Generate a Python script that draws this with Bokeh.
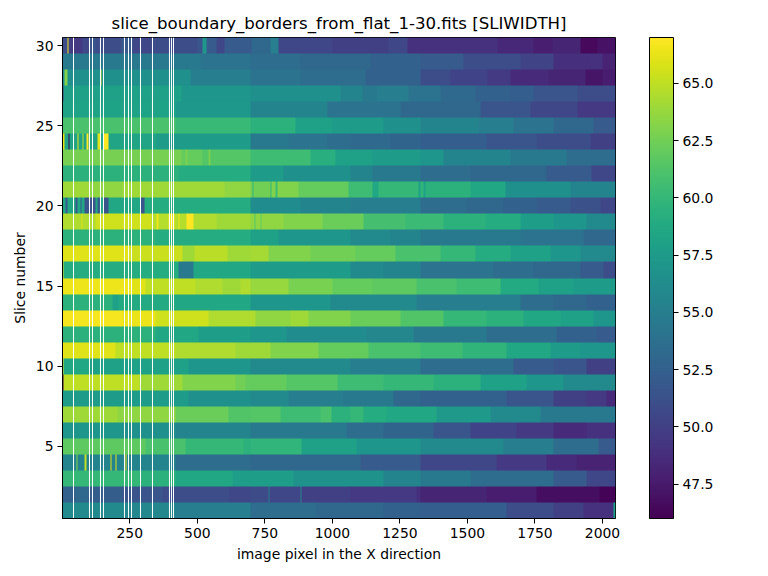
import numpy as np
from bokeh.embed import file_html
from bokeh.models import ColorBar, FixedTicker, Label, LinearColorMapper, PrintfTickFormatter, Range1d
from bokeh.palettes import Viridis256
from bokeh.plotting import figure
from bokeh.resources import INLINE

TITLE = "slice_boundary_borders_from_flat_1-30.fits [SLIWIDTH]"
X_LABEL = "image pixel in the X direction"
Y_LABEL = "Slice number"
BAR_LABEL = "Slice width (pixels)"
X_TICKS = [250, 500, 750, 1000, 1250, 1500, 1750, 2000]
Y_TICKS = [5, 10, 15, 20, 25, 30]
BAR_TICKS = [47.5, 50.0, 52.5, 55.0, 57.5, 60.0, 62.5, 65.0]
V_MIN = 46.0
V_MAX = 67.0
N_X = 2048
N_ROWS = 30

# detector columns with no measurement
GAP_X = [41.8, 100.9, 112, 141.6, 152.7, 230.4, 245.3, 256.4, 289.7, 334.1, 397, 404.4, 411.9]

# each row: (first column of a run, slice width for that run)
ROW_01 = [(1, 56), (223, 55.7), (420, 55), (696, 53.5), (943, 53), (1188, 52.5), (1325, 52.3), (1645, 51), (1819, 50), (1930, 49), (2040, 58)]
ROW_02 = [(1, 52.5), (50, 53), (97, 52.2), (223, 51.5), (370, 51), (620, 50.5), (696, 50.8), (764, 55), (768, 50.5), (883, 55.5), (887, 50), (1067, 49.5), (1313, 48.8), (1325, 48.2), (1572, 47.7), (1757, 46.8), (1990, 46.2)]
ROW_03 = [(1, 60), (285, 59.5), (420, 58.5), (630, 57.8), (856, 56.8), (1188, 55.5), (1325, 54.5), (1510, 53.5), (1819, 52), (1942, 50.5)]
ROW_04 = [(1, 55.5), (54, 63), (58, 55.5), (84, 65), (88, 55.5), (179, 66), (183, 55.5), (198, 66), (202, 55.5), (234, 66), (238, 55.5), (420, 53.5), (696, 53), (1105, 52), (1325, 50.5), (1608, 49.5), (1794, 48.5), (1905, 48)]
ROW_05 = [(1, 61.8), (310, 61), (455, 60), (670, 59.5), (696, 59.8), (887, 58), (1090, 57), (1325, 56), (1634, 55), (1819, 53.5), (1985, 52)]
ROW_06 = [(1, 57), (223, 56.5), (420, 55.5), (696, 54.5), (1054, 53.5), (1188, 52.8), (1375, 51.5), (1510, 50.2), (1683, 49.5), (1819, 48.5), (1942, 49)]
ROW_07 = [(1, 64), (205, 63.5), (420, 62.3), (615, 61.3), (696, 61.5), (807, 60.5), (955, 61), (998, 59.5), (1067, 60), (1116, 59), (1200, 58.5), (1387, 57.3), (1585, 56), (1770, 54.5)]
ROW_08 = [(1, 57.5), (467, 56.5), (696, 56), (838, 55), (1042, 54.5), (1225, 53), (1325, 52.5), (1645, 51.5), (1819, 50), (1942, 49.5), (2015, 48.6)]
ROW_09 = [(1, 46), (6, 65), (285, 64), (445, 63), (640, 62.5), (680, 62), (832, 61.5), (1018, 60.5), (1188, 60), (1374, 59.5), (1547, 58), (1720, 57), (1856, 56)]
ROW_10 = [(1, 66), (6, 58.5), (100, 58), (467, 57), (696, 56), (1067, 55), (1325, 53.5), (1670, 52), (1819, 51.5), (1942, 50)]
ROW_11 = [(1, 67), (6, 66), (197, 65), (420, 64.5), (640, 64), (770, 63), (950, 62), (1135, 61), (1325, 60.5), (1480, 59.7), (1645, 58.5), (1806, 57.5), (1917, 57)]
ROW_12 = [(1, 59.5), (345, 58.5), (505, 57.7), (696, 57), (832, 56.2), (1128, 55.7), (1300, 54.5), (1572, 53.5), (1831, 52.5), (1979, 52)]
ROW_13 = [(1, 66.7), (223, 66.4), (345, 65.5), (542, 64.5), (715, 63.5), (845, 64), (913, 63), (1067, 62.3), (1252, 61.3), (1410, 60), (1572, 59.5), (1708, 58.5), (1844, 58), (1967, 57)]
ROW_14 = [(1, 59.5), (185, 58), (210, 58.8), (420, 58.5), (696, 57), (992, 56), (1313, 55), (1695, 53.5), (1819, 53), (1942, 52.5)]
ROW_15 = [(1, 66.5), (260, 66), (310, 65), (492, 64.5), (593, 64), (660, 64.5), (696, 63.8), (837, 62.8), (1000, 62), (1150, 61.8), (1313, 61), (1461, 60.5), (1621, 58.8), (1763, 58), (1893, 57.5)]
ROW_16 = [(1, 66), (6, 59), (430, 54.5), (485, 58.5), (696, 57.5), (1067, 56), (1188, 55.5), (1325, 54), (1597, 53.5), (1745, 53), (1917, 52), (2004, 51)]
ROW_17 = [(1, 66), (250, 65.3), (445, 64), (490, 64.8), (610, 64), (696, 64.2), (764, 63), (918, 62.5), (1085, 62), (1233, 61), (1400, 60), (1528, 59), (1658, 58), (1806, 57), (1917, 56)]
ROW_18 = [(1, 59.5), (345, 59), (696, 58), (800, 57), (1067, 56), (1214, 55.5), (1325, 54.5), (1695, 54), (1930, 53)]
ROW_19 = [(1, 64.5), (70, 66), (76, 64.5), (125, 65.5), (330, 64.7), (350, 66.5), (356, 64.7), (395, 66.5), (415, 64.7), (430, 66.5), (435, 64.7), (460, 67), (485, 64.5), (570, 64), (696, 63.5), (712, 61.5), (716, 63.5), (735, 62), (739, 63.5), (820, 63), (965, 62.3), (1115, 60.8), (1270, 60.3), (1410, 59.5), (1565, 59), (1695, 57.8), (1819, 57), (1942, 56)]
ROW_20 = [(1, 58.5), (12, 52), (20, 58.5), (50, 52), (57, 58.5), (66, 52), (70, 58.5), (83, 51.5), (125, 58.5), (132, 52), (140, 58.5), (153, 51.5), (170, 58.5), (290, 51.5), (305, 59), (696, 56.2), (881, 55.5), (1067, 55), (1325, 53.5), (1497, 53), (1634, 52.5), (1757, 52), (1880, 51.2), (1991, 50.5)]
ROW_21 = [(1, 64), (100, 63.5), (223, 64), (600, 63.5), (696, 62.5), (705, 60), (709, 62.5), (770, 60), (775, 63), (790, 60.5), (795, 63), (874, 62), (1059, 60.5), (1150, 58.5), (1170, 60), (1318, 58), (1326, 59.8), (1338, 58), (1344, 59.5), (1510, 58.5), (1640, 56.5), (1880, 55.5)]
ROW_22 = [(1, 59.5), (430, 59), (696, 57.5), (819, 56.5), (1067, 55.5), (1150, 54.5), (1325, 53.5), (1510, 53), (1794, 52), (1960, 50.5)]
ROW_23 = [(1, 62.7), (440, 62), (455, 62.8), (465, 62), (519, 61.5), (540, 62.8), (550, 61.5), (696, 60.5), (918, 59.2), (1010, 58), (1150, 57.5), (1325, 57), (1410, 55.5), (1658, 54.5), (1868, 53.5)]
ROW_24 = [(1, 66), (8, 58.3), (22, 46), (26, 58.3), (58, 66), (62, 58.3), (75, 65), (79, 58.3), (90, 67), (98, 58.3), (132, 66), (140, 58.3), (153, 67), (170, 58.3), (350, 57.5), (696, 54.5), (838, 54), (981, 53.5), (1067, 53.2), (1214, 52.8), (1325, 52.3), (1572, 51.5), (1757, 51), (1954, 50)]
ROW_25 = [(1, 61), (420, 60.2), (696, 59.5), (863, 58), (1000, 57.5), (1188, 56.5), (1325, 55.5), (1541, 55), (1669, 54), (1817, 53), (1965, 52)]
ROW_26 = [(1, 58.2), (420, 57.2), (696, 55.5), (981, 54), (1251, 53), (1547, 51.5), (1732, 50.5), (1906, 49.5)]
ROW_27 = [(1, 50), (6, 58), (440, 57), (696, 56.5), (1030, 55.5), (1110, 54.5), (1165, 55), (1280, 54), (1400, 53.2), (1529, 52.5), (1658, 52.3), (1743, 51.5), (1906, 51)]
ROW_28 = [(1, 56.5), (10, 63), (20, 56.5), (140, 65), (146, 56.5), (475, 55), (696, 54), (881, 53.5), (1122, 52.5), (1325, 51), (1436, 50.2), (1573, 49.6), (1658, 48.6), (1800, 48.2), (1936, 47.2), (2000, 47.7)]
ROW_29 = [(1, 54.5), (511, 54), (696, 53.5), (881, 53), (1140, 52.5), (1325, 52), (1484, 51), (1695, 50.3), (1817, 48.8), (1954, 49), (2000, 48)]
ROW_30 = [(1, 51), (18, 66.5), (23, 50), (35, 49.5), (75, 50.5), (100, 51.5), (125, 51), (220, 52), (260, 50.5), (330, 51), (500, 51.5), (519, 57), (534, 52), (570, 50.5), (600, 52), (700, 53), (770, 55), (800, 50.5), (1000, 50), (1207, 50.5), (1277, 49), (1610, 48.3), (1743, 47.8), (1813, 48.2), (1917, 46.5), (1980, 47)]

ROWS = [ROW_01, ROW_02, ROW_03, ROW_04, ROW_05, ROW_06, ROW_07, ROW_08, ROW_09, ROW_10,
        ROW_11, ROW_12, ROW_13, ROW_14, ROW_15, ROW_16, ROW_17, ROW_18, ROW_19, ROW_20,
        ROW_21, ROW_22, ROW_23, ROW_24, ROW_25, ROW_26, ROW_27, ROW_28, ROW_29, ROW_30]

FRAME_W = 553
FRAME_H = 481

# the image is sampled once per screen pixel, so that runs stay crisp
grid_full = np.full((N_ROWS, N_X), np.nan)
for r, runs in enumerate(ROWS):
    for i, (start, v) in enumerate(runs):
        end = runs[i + 1][0] if i + 1 < len(runs) else N_X + 1
        grid_full[r, start - 1:end - 1] = v
col_of_pixel = np.minimum(((np.arange(FRAME_W) + 0.5) * (N_X - 1) / FRAME_W).astype(int), N_X - 1)
row_of_pixel = np.minimum(((np.arange(FRAME_H) + 0.5) * N_ROWS / FRAME_H).astype(int), N_ROWS - 1)
grid = grid_full[row_of_pixel][:, col_of_pixel]

mapper = LinearColorMapper(palette=Viridis256, low=V_MIN, high=V_MAX, nan_color="white")

p = figure(
    frame_width=FRAME_W, frame_height=FRAME_H, output_backend="svg", toolbar_location=None,
    x_range=Range1d(1, N_X), y_range=Range1d(0.5, 30.5),
    min_border_left=62, min_border_top=37, min_border_bottom=50, min_border_right=145,
    background_fill_color="white", border_fill_color="white", outline_line_color="black",
)
p.image(image=[grid], x=1, y=0.5, dw=N_X - 1, dh=N_ROWS, color_mapper=mapper)
p.segment(x0=GAP_X, x1=GAP_X, y0=[0.5] * len(GAP_X), y1=[30.5] * len(GAP_X),
          line_color="white", line_width=1)

p.grid.visible = False
p.title.text = TITLE
p.title.align = "center"
p.title.text_font = "DejaVu Sans"
p.title.text_font_size = "16.6px"
p.title.text_font_style = "normal"
p.title.text_color = "black"

for ax, label, ticks in ((p.xaxis[0], X_LABEL, X_TICKS), (p.yaxis[0], Y_LABEL, Y_TICKS)):
    ax.axis_label = label
    ax.axis_label_text_font = "DejaVu Sans"
    ax.axis_label_text_font_size = "13.9px"
    ax.axis_label_text_font_style = "normal"
    ax.axis_label_text_color = "black"
    ax.ticker = FixedTicker(ticks=ticks)
    ax.major_label_text_font = "DejaVu Sans"
    ax.major_label_text_font_size = "13.9px"
    ax.major_label_text_color = "black"
    ax.major_tick_in = 0
    ax.major_tick_out = 5
    ax.minor_tick_line_color = None
    ax.major_tick_line_color = "black"
    ax.axis_line_color = "black"
    ax.axis_label_standoff = 5
    ax.major_label_standoff = 4
p.yaxis[0].major_label_orientation = "horizontal"

bar = ColorBar(
    color_mapper=mapper, width=24, height=FRAME_H, padding=0, margin=0,
    location=(FRAME_W + 34, 0),
    ticker=FixedTicker(ticks=BAR_TICKS), formatter=PrintfTickFormatter(format="%.1f"),
    major_label_text_font="DejaVu Sans", major_label_text_font_size="13.9px",
    major_label_text_color="black", major_tick_in=0, major_tick_out=5,
    major_tick_line_color="black", minor_tick_line_color=None,
    bar_line_color="black", label_standoff=4,
)
p.add_layout(bar, "center")
p.add_layout(Label(text=BAR_LABEL, x=663, y=FRAME_H / 2,
                   x_units="screen", y_units="screen", angle=np.pi / 2,
                   text_font="DejaVu Sans", text_font_size="13.9px", text_color="black",
                   text_align="center", text_baseline="middle"))

open("out.html", "w").write(file_html(p, INLINE))
